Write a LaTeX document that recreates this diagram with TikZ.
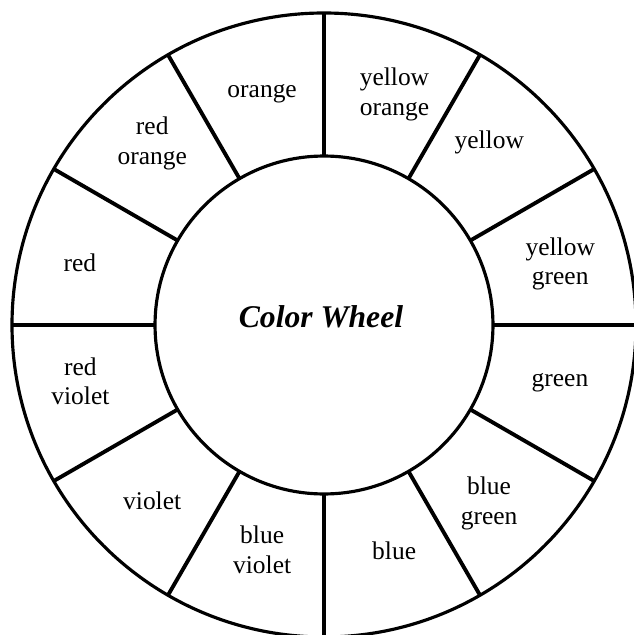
\documentclass[tikz,border=0pt]{standalone}
\usepackage{fontspec}
\setmainfont{Liberation Serif}
\begin{document}
\begin{tikzpicture}[x=0.02cm,y=0.02cm,
    every node/.style={font=\fontsize{14.5}{17}\selectfont, align=center},
    ring/.style={line width=1.8pt},
    spoke/.style={line width=2.2pt}]
  \useasboundingbox (-324,-310) rectangle (310,325);
  % rings
  \draw[ring] (0,0) circle[radius=312];
  \node[ring, draw, circle, minimum size=6.76cm, inner sep=0pt, outer sep=0pt] (hub) at (0,0) {};
  \node[font=\fontsize{18}{20}\selectfont\bfseries\itshape] (title) at (-3,8) {Color Wheel};
  % spokes
  \foreach \a in {0,30,...,330}
    \draw[spoke] (hub.\a) -- (\a:312);
  % colour names
  \node (orange)   at (105:239)   {orange};
  \node (yorange)  at (73:241)    {yellow\\orange};
  \node (yellow)   at (47.8:246)  {yellow};
  \node (ygreen)   at (14.5:244)  {yellow\\green};
  \node (green)    at (-13.8:243) {green};
  \node (bgreen)   at (-47.2:243) {blue\\green};
  \node (blue)     at (-72.7:236) {blue};
  \node (bviolet)  at (-105.4:233) {blue\\violet};
  \node (violet)   at (-134.3:246) {violet};
  \node (rviolet)  at (-167:250)  {red\\violet};
  \node (red)      at (165.7:252) {red};
  \node (rorange)  at (133.4:250) {red\\orange};
\end{tikzpicture}
\end{document}
